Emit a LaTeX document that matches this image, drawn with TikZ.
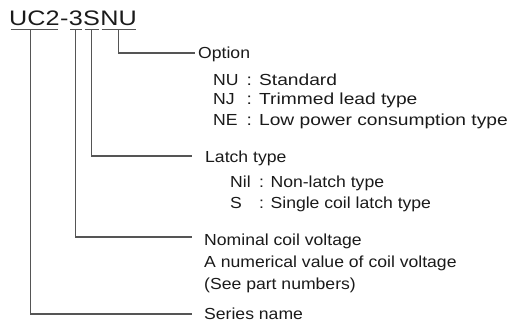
\documentclass[tikz,border=0pt]{standalone}
\usepackage{fontspec}
\usepackage{xcolor}
\usepackage{tikz}
\usetikzlibrary{positioning}
\newfontfamily\codefont[FakeStretch=1.2]{Liberation Sans}
\newfontfamily\labelfont[FakeStretch=1.1]{Liberation Sans}
\newfontfamily\widefont[FakeStretch=1.2]{Liberation Sans}
\definecolor{inkblack}{HTML}{1A1A1A}
\definecolor{linegray}{HTML}{555555}
\tikzset{
  codepart/.style={inner xsep=0pt, inner ysep=3pt, text=inkblack, font=\codefont\fontsize{21}{25}\selectfont},
  uline/.style={draw=linegray, line width=1.1pt, shorten <=1.5pt, shorten >=1.5pt},
  lead/.style={draw=linegray, line width=1.1pt},
  item/.style={inner sep=0pt, anchor=base west, text=inkblack, font=\labelfont\fontsize{16}{19}\selectfont},
  wideitem/.style={item, font=\widefont\fontsize{16}{19}\selectfont}
}
\begin{document}
\begin{tikzpicture}[x=1pt, y=-1pt]
  \useasboundingbox (0,0) rectangle (513,326);

  % type code
  \node[codepart, anchor=base west] (series) at (9,26) {UC2};
  \node[codepart, base right=0pt of series] (dash) {-};
  \node[codepart, base right=0pt of dash] (volt) {3};
  \node[codepart, base right=0pt of volt] (latch) {S};
  \node[codepart, base right=0pt of latch] (option) {NU};

  \draw[uline] (series.south west) -- (series.south east);
  \draw[uline] (volt.south west) -- (volt.south east);
  \draw[uline] (latch.south west) -- (latch.south east);
  \draw[uline] (option.south west) -- (option.south east);

  % option
  \node[item] (optlabel) at (198,59) {Option};
  \node[item] (nukey) at (213,85) {NU};
  \node[wideitem] (nudesc) at (246.5,85) {: Standard};
  \node[item] (njkey) at (213,105) {NJ};
  \node[wideitem] (njdesc) at (246.5,105) {: Trimmed lead type};
  \node[item] (nekey) at (213,125) {NE};
  \node[wideitem] (nedesc) at (246.5,125) {: Low power consumption type};

  % latch type
  \node[item] (latchlabel) at (205,162) {Latch type};
  \node[item] (nilkey) at (230,187) {Nil};
  \node[item] (nildesc) at (259,187) {: Non-latch type};
  \node[item] (skey) at (230,208) {S};
  \node[item] (sdesc) at (259,208) {: Single coil latch type};

  % coil voltage
  \node[item] (voltlabel) at (204,245.5) {Nominal coil voltage};
  \node[item] (voltvalue) at (204,267.5) {A numerical value of coil voltage};
  \node[item] (voltnote) at (204,289) {(See part numbers)};

  % series
  \node[item] (serieslabel) at (204,319.5) {Series name};

  \coordinate (optend) at (195,53);
  \coordinate (latchend) at (192,156);
  \coordinate (voltend) at (192,237);
  \coordinate (seriesend) at (192,314);

  \draw[lead] (option.south) |- (optend);
  \draw[lead] (latch.south) |- (latchend);
  \draw[lead] (volt.south) |- (voltend);
  \draw[lead] ([xshift=-3.5pt]series.south) |- (seriesend);
\end{tikzpicture}
\end{document}
